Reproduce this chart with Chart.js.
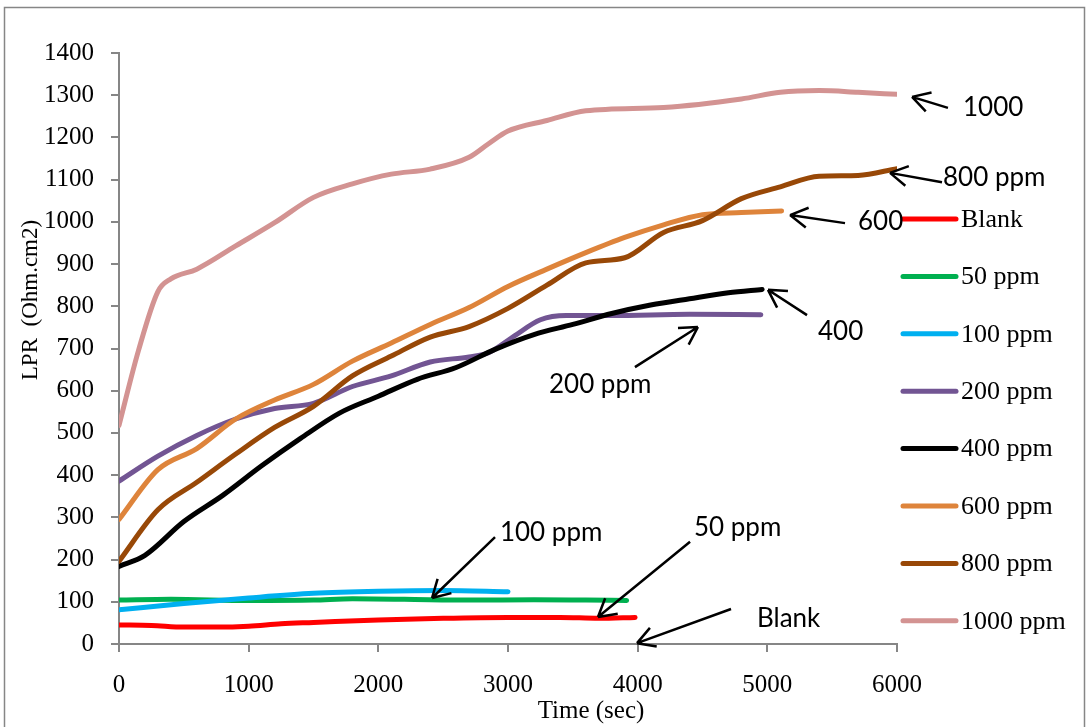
<!DOCTYPE html>
<html>
<head>
<meta charset="utf-8">
<script src="https://cdn.jsdelivr.net/npm/chart.js@4.4.1/dist/chart.umd.min.js"></script>
<style>
    html, body { margin: 0; padding: 0; background: #fff; }
    #wrap { width: 1086px; height: 727px; }
</style>
</head>
<body>
<div id="wrap"><canvas id="lprChart" width="1086" height="727"></canvas></div>
<script>
// Series (time in sec, LPR in Ohm.cm2)
const seriesNames = ["Blank", "50 ppm", "100 ppm", "200 ppm", "400 ppm", "600 ppm", "800 ppm", "1000 ppm"];
const seriesColors = ["#ff0000", "#00b050", "#00b0f0", "#725593", "#000000", "#de843b", "#984807", "#d39392"];

const blankTime = [0, 250, 500, 750, 1000, 1250, 1500, 2000, 2500, 3000, 3400, 3700, 3980];
const blankLPR  = [45, 44, 40, 40, 42, 48, 51, 57, 61, 63, 63, 61, 63];

const ppm50Time = [0, 400, 1000, 1500, 1800, 2200, 2700, 3200, 3600, 3915];
const ppm50LPR  = [104, 106, 103, 104, 107, 106, 104, 105, 104, 103];

const ppm100Time = [0, 500, 1000, 1500, 2000, 2500, 3000];
const ppm100LPR  = [81, 96, 109, 120, 125, 127, 124];

const ppm200Time = [0, 300, 600, 900, 1200, 1500, 1800, 2100, 2400, 2700, 2850, 3050, 3250, 3450, 3800, 4400, 4950];
const ppm200LPR  = [386, 445, 494, 533, 558, 570, 610, 635, 668, 680, 690, 730, 768, 778, 778, 781, 780];

const ppm400Time = [0, 200, 500, 800, 1100, 1400, 1700, 2000, 2300, 2600, 2900, 3200, 3500, 3800, 4100, 4400, 4700, 4960];
const ppm400LPR  = [184, 210, 290, 352, 422, 487, 547, 587, 627, 655, 698, 733, 757, 783, 803, 818, 832, 840];

const ppm600Time = [0, 300, 600, 900, 1200, 1500, 1800, 2100, 2400, 2700, 3000, 3300, 3600, 3900, 4200, 4500, 4800, 5110];
const ppm600LPR  = [295, 413, 463, 533, 578, 615, 670, 713, 757, 797, 847, 888, 927, 963, 993, 1017, 1022, 1026];

const ppm800Time = [0, 300, 600, 900, 1200, 1500, 1800, 2100, 2400, 2700, 3000, 3300, 3600, 3900, 4200, 4500, 4800, 5100, 5400, 5700, 6000];
const ppm800LPR  = [196, 318, 383, 450, 513, 563, 635, 682, 727, 752, 795, 850, 903, 915, 975, 1003, 1055, 1083, 1108, 1110, 1126];

const ppm1000Time = [0, 150, 300, 400, 600, 900, 1200, 1500, 1800, 2100, 2400, 2700, 2850, 3000, 3300, 3600, 4200, 4800, 5100, 5400, 5700, 6000];
const ppm1000LPR  = [518, 695, 835, 865, 888, 943, 998, 1058, 1090, 1113, 1125, 1153, 1185, 1215, 1240, 1263, 1271, 1291, 1307, 1311, 1307, 1302];

const seriesTimes = [blankTime, ppm50Time, ppm100Time, ppm200Time, ppm400Time, ppm600Time, ppm800Time, ppm1000Time];
const seriesValues = [blankLPR, ppm50LPR, ppm100LPR, ppm200LPR, ppm400LPR, ppm600LPR, ppm800LPR, ppm1000LPR];

const xTicks = [0, 1000, 2000, 3000, 4000, 5000, 6000];

// callouts, positioned in data units
const callouts = [
    { text: "1000",    tx: 6509, tv: 1270, tail: [6393, 1270], head: [6116, 1296] },
    { text: "800 ppm", tx: 6355, tv: 1104, tail: [6347, 1094], head: [5946, 1116] },
    { text: "600",     tx: 5699, tv: 1000, tail: [5599, 997],  head: [5175, 1016] },
    { text: "400",     tx: 5391, tv: 741,  tail: [5306, 779],  head: [5005, 839] },
    { text: "200 ppm", tx: 3316, tv: 614,  tail: [3979, 656],  head: [4465, 751] },
    { text: "100 ppm", tx: 2938, tv: 263,  tail: [2900, 253],  head: [2414, 109] },
    { text: "50 ppm",  tx: 4434, tv: 275,  tail: [4404, 242],  head: [3694, 64] },
    { text: "Blank",   tx: 4920, tv: 59,   tail: [4720, 83],   head: [3995, 2] }
];

const axisGray = "#868686";
const serif = "'Liberation Serif', 'Times New Roman', serif";
const sans = "Lato, 'Open Sans', sans-serif";

const datasets = seriesNames.map((name, i) => ({
    label: name,
    data: seriesTimes[i].map((t, k) => ({ x: t, y: seriesValues[i][k] })),
    borderColor: seriesColors[i],
    backgroundColor: seriesColors[i],
    borderWidth: 5,
    pointRadius: 0,
    cubicInterpolationMode: "monotone",
    borderCapStyle: "round",
    fill: false,
    order: seriesNames.length - i
}));

const extras = {
    id: "extras",
    beforeDraw(chart) {
        const ctx = chart.ctx;
        ctx.save();
        ctx.fillStyle = "#fff";
        ctx.fillRect(0, 0, chart.width, chart.height);
        ctx.restore();
    },
    afterDraw(chart) {
        const ctx = chart.ctx;
        const xs = chart.scales.x, ys = chart.scales.y;
        ctx.save();

        // outer frame
        ctx.strokeStyle = axisGray;
        ctx.lineWidth = 1.5;
        ctx.strokeRect(4.5, 7.5, 1080, 740);

        // legend
        ctx.font = "26px " + serif;
        ctx.textBaseline = "middle";
        ctx.textAlign = "left";
        seriesNames.forEach((name, i) => {
            const y = 219 + i * 57.4;
            ctx.strokeStyle = seriesColors[i];
            ctx.lineWidth = 5;
            ctx.lineCap = "round";
            ctx.beginPath();
            ctx.moveTo(903, y);
            ctx.lineTo(956, y);
            ctx.stroke();
            ctx.fillStyle = "#000";
            ctx.fillText(name, 961, y + 1);
        });

        // axis titles
        ctx.fillStyle = "#000";
        ctx.font = "25px " + serif;
        ctx.textAlign = "center";
        ctx.fillText("Time (sec)", 591, 711);
        ctx.save();
        ctx.translate(31, 300);
        ctx.rotate(-Math.PI / 2);
        ctx.font = "23px " + serif;
        ctx.fillText("LPR  (Ohm.cm2)", 0, 0);
        ctx.restore();

        // callouts with open arrowheads
        ctx.font = "26px " + sans;
        ctx.textAlign = "left";
        ctx.strokeStyle = "#000";
        ctx.lineWidth = 2.5;
        ctx.lineCap = "butt";
        callouts.forEach(c => {
            const hx = xs.getPixelForValue(c.head[0]), hy = ys.getPixelForValue(c.head[1]);
            const tx = xs.getPixelForValue(c.tail[0]), ty = ys.getPixelForValue(c.tail[1]);
            const ang = Math.atan2(ty - hy, tx - hx);
            ctx.beginPath();
            ctx.moveTo(tx, ty);
            ctx.lineTo(hx, hy);
            [-0.52, 0.52].forEach(d => {
                ctx.moveTo(hx + 20 * Math.cos(ang + d), hy + 20 * Math.sin(ang + d));
                ctx.lineTo(hx, hy);
            });
            ctx.stroke();
            ctx.fillText(c.text, xs.getPixelForValue(c.tx), ys.getPixelForValue(c.tv));
        });
        ctx.restore();
    }
};

new Chart(document.getElementById("lprChart"), {
    type: "line",
    data: { datasets: datasets },
    options: {
        responsive: false,
        animation: false,
        events: [],
        layout: { padding: { left: 0, top: 53, right: 189, bottom: 0 } },
        plugins: { legend: { display: false }, tooltip: { enabled: false } },
        scales: {
            x: {
                type: "linear",
                min: 0,
                max: 6000,
                afterBuildTicks: s => { s.ticks = xTicks.map(v => ({ value: v })); },
                afterFit: s => { s.height = 83; },
                border: { display: true, color: axisGray, width: 2 },
                grid: { drawOnChartArea: false, drawTicks: true, tickLength: 8, color: axisGray, lineWidth: 2 },
                ticks: { color: "#000", font: { family: serif, size: 25 }, padding: 18, maxRotation: 0, autoSkip: false,
                         callback: v => String(v) }
            },
            y: {
                min: 0,
                max: 1400,
                afterFit: s => { s.width = 119; },
                border: { display: true, color: axisGray, width: 2 },
                grid: { drawOnChartArea: false, drawTicks: true, tickLength: 8, color: axisGray, lineWidth: 2 },
                ticks: { stepSize: 100, color: "#000", font: { family: serif, size: 25 }, padding: 17,
                         callback: v => String(v) }
            }
        }
    },
    plugins: [extras]
});
</script>
</body>
</html>
